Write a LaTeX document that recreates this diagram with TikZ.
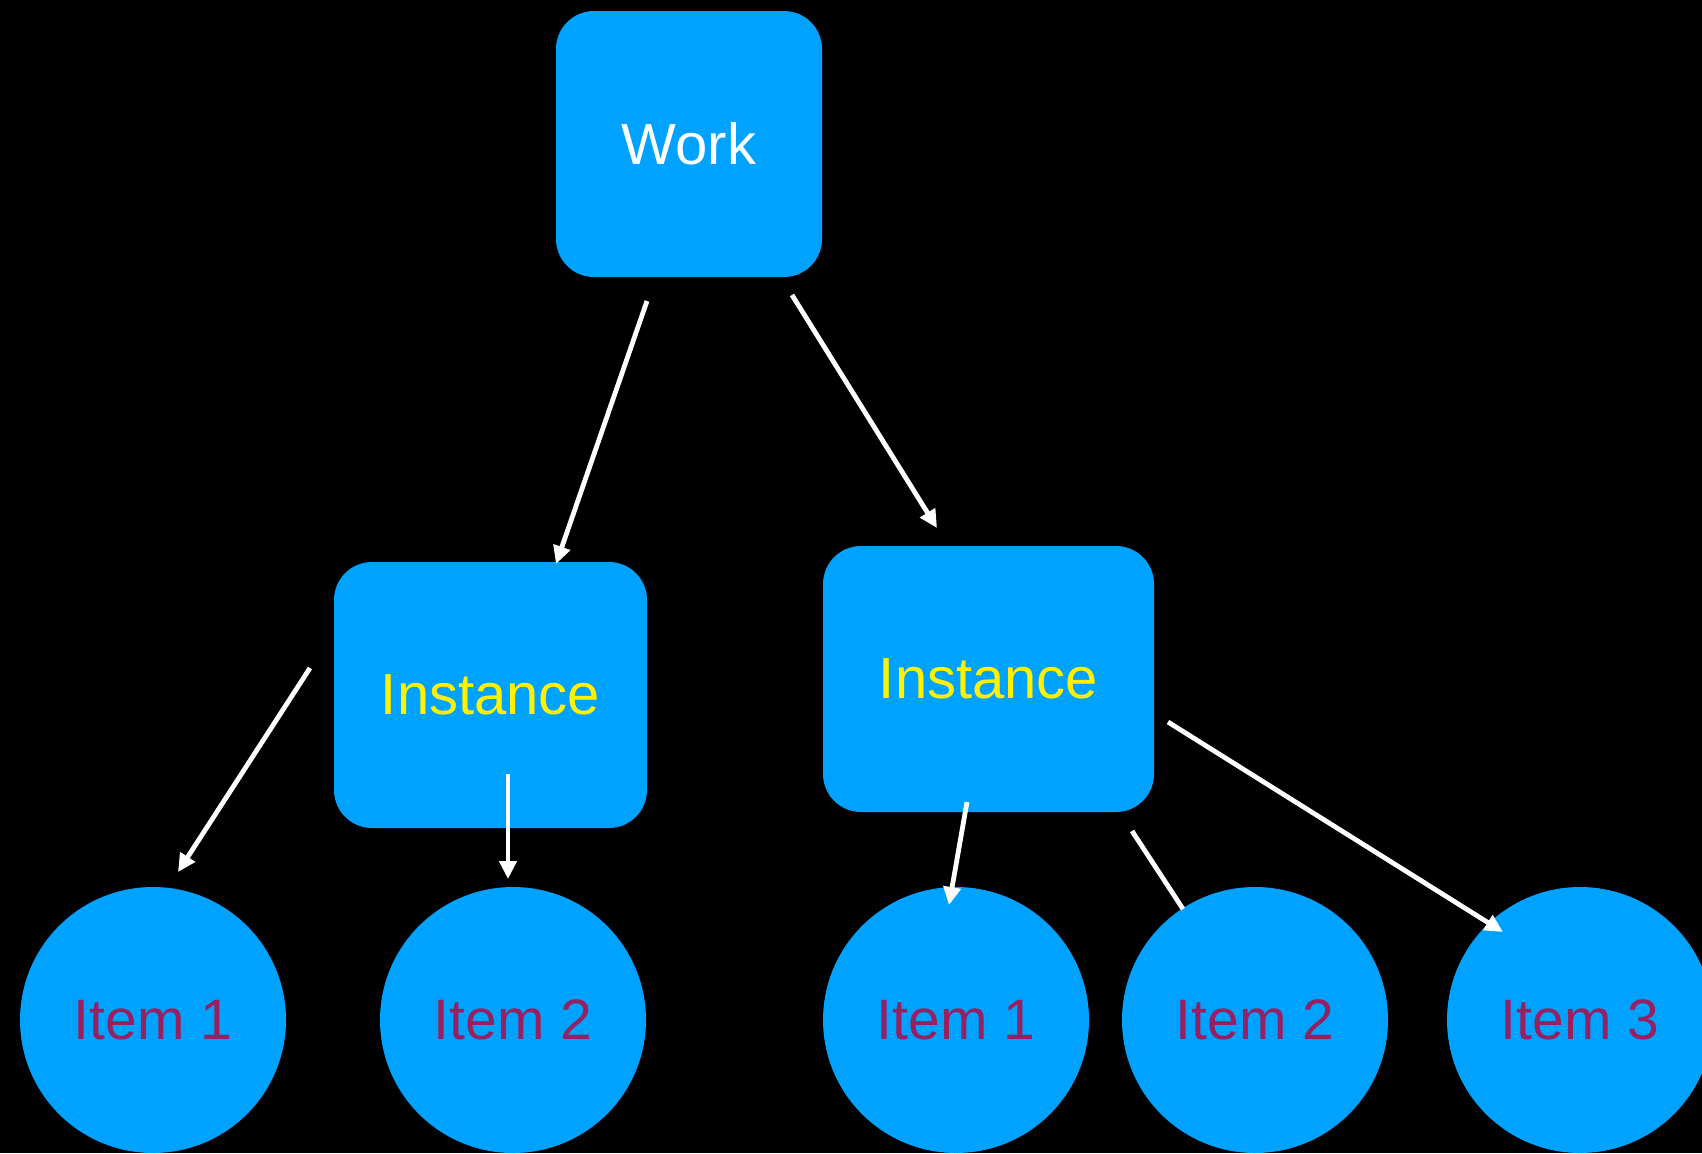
\documentclass[tikz,border=0pt]{standalone}
\usepackage{fontspec}
\setmainfont{Liberation Sans}
\usetikzlibrary{arrows.meta}
\definecolor{boxblue}{RGB}{0,162,255}
\definecolor{itemtext}{RGB}{150,32,96}
\tikzset{
  box/.style={fill=boxblue, rounded corners=19pt, inner sep=0pt, font=\fontsize{29}{34}\selectfont},
  item/.style={circle, fill=boxblue, minimum size=133pt, inner sep=0pt, text=itemtext, font=\fontsize{28.5}{34}\selectfont},
  arr/.style={draw=white, line width=2.4pt, -{Triangle[length=9pt,width=8.5pt]}},
  plain/.style={draw=white, line width=2.4pt},
}
\begin{document}
\begin{tikzpicture}[x=0.5pt,y=-0.5pt]
\fill[black] (0,0) rectangle (1702,1153);
\useasboundingbox (0,0) rectangle (1702,1153);
\node[box, minimum width=133pt, minimum height=133pt, text=white] (work) at (689,144) {Work};
\node[box, minimum width=156.5pt, minimum height=133pt, text=yellow] (instL) at (490.5,695) {Instance};
\node[box, minimum width=165.5pt, minimum height=133pt, text=yellow] (instR) at (988.5,679) {Instance};
\node[item] (l1) at (153,1020) {Item 1};
\node[item] (l2) at (513,1020) {Item 2};
\node[item] (r1) at (956,1020) {Item 1};
\node[item] (r2) at (1255,1020) {Item 2};
\node[item] (r3) at (1580,1020) {Item 3};
\coordinate (a1s) at (647,301); \coordinate (a1e) at (556,564);
\coordinate (a2s) at (792,295); \coordinate (a2e) at (937,528);
\coordinate (a3s) at (310,668); \coordinate (a3e) at (178,872);
\coordinate (a4s) at (508,774); \coordinate (a4e) at (508,879);
\coordinate (a5s) at (967,802); \coordinate (a5e) at (949,905);
\coordinate (a6s) at (1132,831); \coordinate (a6e) at (1183,909);
\coordinate (a7s) at (1168,722); \coordinate (a7e) at (1503,932);
\draw[arr] (a1s) -- (a1e);
\draw[arr] (a2s) -- (a2e);
\draw[arr] (a3s) -- (a3e);
\draw[arr] (a4s) -- (a4e);
\draw[arr] (a5s) -- (a5e);
\draw[plain] (a6s) -- (a6e);
\draw[arr] (a7s) -- (a7e);
\end{tikzpicture}
\end{document}
